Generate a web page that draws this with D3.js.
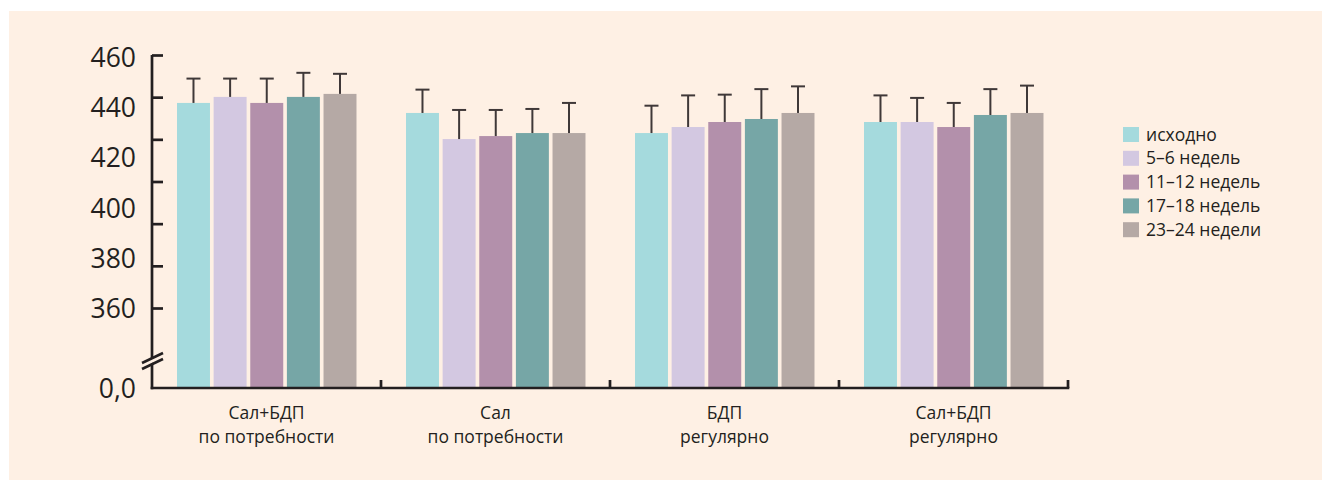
<!DOCTYPE html>
<html>
<head>
<meta charset="utf-8">
<script src="https://cdnjs.cloudflare.com/ajax/libs/d3/7.8.5/d3.min.js"></script>
<style>
    body { margin: 0; background: #fff; }
    svg text { font-family: "Open Sans", "Noto Sans", sans-serif; fill: #231f20; }
</style>
</head>
<body>
<svg id="view" width="1322" height="480"></svg>
<script>
const Groups = [
    ['Сал+БДП', 'по потребности'],
    ['Сал', 'по потребности'],
    ['БДП', 'регулярно'],
    ['Сал+БДП', 'регулярно']
];

const SeriesNames = ['исходно', '5–6 недель', '11–12 недель', '17–18 недель', '23–24 недели'];
const SeriesColors = ['#a5dadd', '#d3c8e1', '#b390ab', '#76a6a6', '#b5a9a5'];

// mean per group, one row per series
const Means = [
    [442.1, 438.1, 430.1, 434.5],
    [444.5, 427.7, 432.5, 434.5],
    [442.1, 428.9, 434.5, 432.5],
    [444.5, 430.1, 435.7, 437.3],
    [445.7, 430.1, 438.1, 438.1]
];

// upper error bar length
const Errors = [
    [9.7, 9.3, 10.9, 10.6],
    [7.3, 11.6, 12.6, 9.6],
    [9.7, 10.4, 10.9, 9.6],
    [9.6, 9.6, 11.9, 10.3],
    [8.0, 12.0, 10.6, 10.9]
];

const YLabels = [360, 380, 400, 420, 440, 460];

function draw() {
    var svg = d3.select('svg#view');

    // background panel
    svg.append('rect')
        .attr('x', 9)
        .attr('y', 11)
        .attr('width', 1322 - 9)
        .attr('height', 480 - 11)
        .attr('fill', '#fef0e4');

    const baseY = 388;
    const left = 152;

    var x = d3.scaleBand()
        .domain(d3.range(Groups.length))
        .range([left, 1068]);
    var xInner = d3.scaleBand()
        .domain(d3.range(SeriesNames.length))
        .range([25, x.bandwidth() - 24.5])
        .paddingInner(0.1);
    var y = d3.scaleLinear()
        .domain([360, 460])
        .range([309, 58]);
    // tick marks on the axis are spread a bit tighter than the labels
    var tickPos = d3.scaleLinear()
        .domain([0, 6])
        .range([308, 55]);

    var flat = [];
    Means.forEach(function(row, s) {
        row.forEach(function(v, g) {
            flat.push({ s: s, g: g, v: v, e: Errors[s][g] });
        });
    });

    var bars = svg.append('g').attr('class', 'bars');
    bars.selectAll('rect')
        .data(flat)
        .enter()
        .append('rect')
        .attr('x', function(d) { return x(d.g) + xInner(d.s); })
        .attr('y', function(d) { return y(d.v); })
        .attr('width', xInner.bandwidth())
        .attr('height', function(d) { return baseY - y(d.v); })
        .attr('fill', function(d) { return SeriesColors[d.s]; });

    // error bars
    var err = svg.append('g').attr('class', 'errors')
        .attr('stroke', '#3f3838')
        .attr('stroke-width', 2);
    err.selectAll('line.stem')
        .data(flat)
        .enter()
        .append('line')
        .attr('class', 'stem')
        .attr('x1', function(d) { return x(d.g) + xInner(d.s) + xInner.bandwidth() / 2; })
        .attr('x2', function(d) { return x(d.g) + xInner(d.s) + xInner.bandwidth() / 2; })
        .attr('y1', function(d) { return y(d.v); })
        .attr('y2', function(d) { return y(d.v + d.e); });
    err.selectAll('line.cap')
        .data(flat)
        .enter()
        .append('line')
        .attr('class', 'cap')
        .attr('x1', function(d) { return x(d.g) + xInner(d.s) + xInner.bandwidth() / 2 - 7; })
        .attr('x2', function(d) { return x(d.g) + xInner(d.s) + xInner.bandwidth() / 2 + 7; })
        .attr('y1', function(d) { return y(d.v + d.e); })
        .attr('y2', function(d) { return y(d.v + d.e); });

    // y axis: line, inner ticks, labels
    var axisColor = '#231f20';
    svg.append('line')
        .attr('x1', left).attr('x2', left)
        .attr('y1', 55).attr('y2', baseY + 1.3)
        .attr('stroke', axisColor)
        .attr('stroke-width', 2.7);

    svg.append('g')
        .attr('transform', 'translate(' + left + ',0)')
        .call(d3.axisRight(tickPos).tickValues(d3.range(7)).tickSize(11).tickFormat(''))
        .call(function(g) {
            g.select('.domain').remove();
            g.selectAll('line').attr('stroke', axisColor).attr('stroke-width', 2.7);
        });

    svg.append('g')
        .attr('transform', 'translate(136,0)')
        .call(d3.axisLeft(y).tickValues(YLabels).tickSize(0).tickPadding(0))
        .call(function(g) {
            g.select('.domain').remove();
            g.selectAll('text')
                .attr('fill', axisColor)
                .style('font-size', '26.5px');
        });

    svg.append('text')
        .attr('x', 136)
        .attr('y', 390)
        .attr('dy', '0.32em')
        .attr('text-anchor', 'end')
        .style('font-size', '26.5px')
        .text('0,0');

    // axis break
    svg.append('polygon')
        .attr('points', '146,366 158,360 158,356 146,362')
        .attr('fill', '#fef0e4');
    svg.append('g')
        .attr('stroke', axisColor)
        .attr('stroke-width', 2.5)
        .selectAll('line')
        .data([0, 6])
        .enter()
        .append('line')
        .attr('x1', 142).attr('x2', 163)
        .attr('y1', function(d) { return 363 + d; })
        .attr('y2', function(d) { return 353 + d; });

    // x axis
    svg.append('line')
        .attr('x1', left - 1.3).attr('x2', 1068 + 1.3)
        .attr('y1', baseY).attr('y2', baseY)
        .attr('stroke', axisColor)
        .attr('stroke-width', 2.7);
    svg.append('g')
        .selectAll('line')
        .data(d3.range(1, Groups.length + 1))
        .enter()
        .append('line')
        .attr('x1', function(d) { return left + d * x.step(); })
        .attr('x2', function(d) { return left + d * x.step(); })
        .attr('y1', baseY)
        .attr('y2', baseY - 8)
        .attr('stroke', axisColor)
        .attr('stroke-width', 2.7);

    var labels = svg.append('g').attr('class', 'x-labels');
    labels.selectAll('text')
        .data(Groups)
        .enter()
        .append('text')
        .attr('text-anchor', 'middle')
        .style('font-size', '17.5px')
        .each(function(d, i) {
            var t = d3.select(this);
            d.forEach(function(line, k) {
                t.append('tspan')
                    .attr('x', x(i) + x.bandwidth() / 2)
                    .attr('y', 419 + k * 24)
                    .text(line);
            });
        });

    // legend
    var legend = svg.append('g')
        .attr('transform', 'translate(1123,127)');
    var item = legend.selectAll('g')
        .data(SeriesNames)
        .enter()
        .append('g')
        .attr('transform', function(d, i) { return 'translate(0,' + i * 23.8 + ')'; });
    item.append('rect')
        .attr('width', 16)
        .attr('height', 15)
        .attr('fill', function(d, i) { return SeriesColors[i]; });
    item.append('text')
        .attr('x', 23)
        .attr('y', 7.5)
        .attr('dy', '0.35em')
        .style('font-size', '17.5px')
        .text(function(d) { return d; });
}

draw();
</script>
</body>
</html>
